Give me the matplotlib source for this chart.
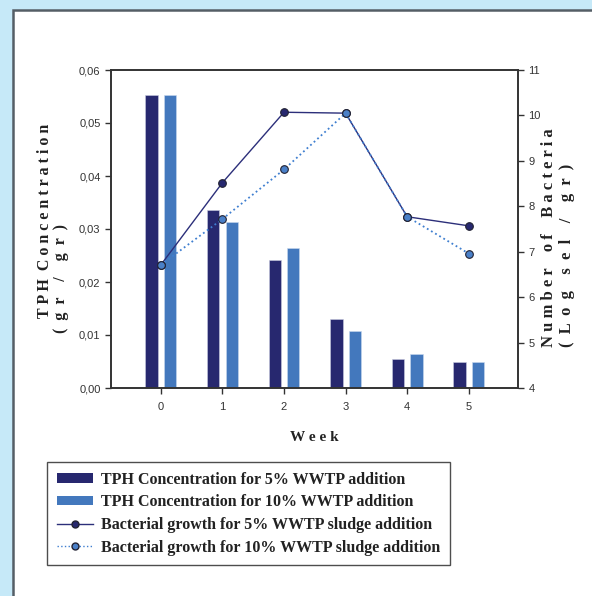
import matplotlib.pyplot as plt
from matplotlib.patches import Rectangle
from matplotlib.lines import Line2D
import numpy as np

weeks = [0, 1, 2, 3, 4, 5]
tph_5 = [0.0553, 0.0336, 0.0242, 0.0131, 0.0054, 0.0049]
tph_10 = [0.0553, 0.0313, 0.0264, 0.0108, 0.0065, 0.0050]
bact_5 = [6.71, 8.52, 10.07, 10.05, 7.77, 7.57]
bact_10 = [6.71, 7.72, 8.81, 10.05, 7.77, 6.96]
yticks_left = [0, 0.01, 0.02, 0.03, 0.04, 0.05, 0.06]
yticks_right = [4, 5, 6, 7, 8, 9, 10, 11]

navy = '#27286f'
blue = '#4378bd'
serif = 'Liberation Serif'
sans = 'Liberation Sans'

fig = plt.figure(figsize=(5.92, 5.96), dpi=100)
fig.patch.set_facecolor('#c6e9f8')
# panel blanco con borde gris
fig.add_artist(Rectangle((13 / 592, -0.01), 1.0, 1 - 10 / 596 + 0.01,
                         transform=fig.transFigure, facecolor='white',
                         edgecolor='#555e66', linewidth=1.8, zorder=0))

ax = fig.add_axes([111 / 592, 1 - 388 / 596, 407 / 592, 318 / 596])
ax.set_facecolor('none')
x = np.array(weeks)
w = 0.2
ax.bar(x - 0.15, tph_5, w, color=navy, edgecolor='#c9cbe0', linewidth=0.4, zorder=2)
ax.bar(x + 0.15, tph_10, w, color=blue, edgecolor='#c9d8ee', linewidth=0.4, zorder=2)
ax.set_xlim(-0.81, 5.8)
ax.set_ylim(0, 0.06)
ax.set_xticks(weeks)
ax.set_yticks(yticks_left)
ax.set_yticklabels(['{:.2f}'.format(v).replace('.', ',') for v in yticks_left])

ax2 = ax.twinx()
ax2.plot(x, bact_5, '-', color='#2c2f7a', lw=1.0, marker='o', ms=5.5,
         mfc=navy, mec='#222233', mew=0.8, zorder=4)
ax2.plot(x, bact_10, ':', color='#3f7fd0', lw=1.3, marker='o', ms=5.5,
         mfc='#4a80c8', mec='#222233', mew=0.8, zorder=5)
ax2.set_ylim(4, 11)
ax2.set_yticks(yticks_right)

for a in (ax, ax2):
    for s in a.spines.values():
        s.set_color('#333333')
        s.set_linewidth(1.2)
    a.tick_params(direction='out', length=4, width=1, color='#333333',
                  labelsize=8, labelcolor='#333333')
    for lbl in a.get_xticklabels() + a.get_yticklabels():
        lbl.set_family(sans)
ax.tick_params(axis='x', pad=6)

ax.set_xlabel('W e e k', family=serif, weight='bold', fontsize=11,
              color='#222222', labelpad=14)

lab = dict(rotation=90, family=serif, weight='bold', color='#222222',
           ha='center', va='bottom')
fig.text(45 / 592, 1 - 318 / 596, 'T P H  C o n c e n t r a t i o n',
         fontsize=11.5, **lab)
fig.text(61 / 592, 1 - 333 / 596, '(  g  r    /    g  r  )',
         fontsize=11.5, **lab)
fig.text(549 / 592, 1 - 347 / 596, 'N u m b e r    o f    B a c t e r i a',
         fontsize=12, **lab)
fig.text(567 / 592, 1 - 347 / 596, '(  L  o  g    s  e  l    /    g  r  )',
         fontsize=12, **lab)

handles = [
    Rectangle((0, 0), 1, 1, facecolor=navy),
    Rectangle((0, 0), 1, 1, facecolor=blue),
    Line2D([], [], color='#2c2f7a', lw=1.0, marker='o', ms=5, mfc=navy, mec='#222233'),
    Line2D([], [], color='#3f7fd0', lw=1.0, ls=':', marker='o', ms=5, mfc='#4a80c8', mec='#222233'),
]
labels = ['TPH Concentration for 5% WWTP addition',
          'TPH Concentration for 10% WWTP addition',
          'Bacterial growth for 5% WWTP sludge addition',
          'Bacterial growth for 10% WWTP sludge addition']
leg = fig.legend(handles, labels, loc='upper left',
                 bbox_to_anchor=(47 / 592, 1 - 462 / 596),
                 prop={'family': serif, 'weight': 'bold', 'size': 11.5},
                 frameon=True, fancybox=False, handlelength=2.3,
                 handleheight=0.55, labelspacing=0.42, borderpad=0.6,
                 handletextpad=0.5, borderaxespad=0)
leg.get_frame().set_edgecolor('#222222')
leg.get_frame().set_linewidth(1.0)
for t in leg.get_texts():
    t.set_color('#222222')

fig.savefig('out.png', dpi=100, facecolor=fig.get_facecolor())
